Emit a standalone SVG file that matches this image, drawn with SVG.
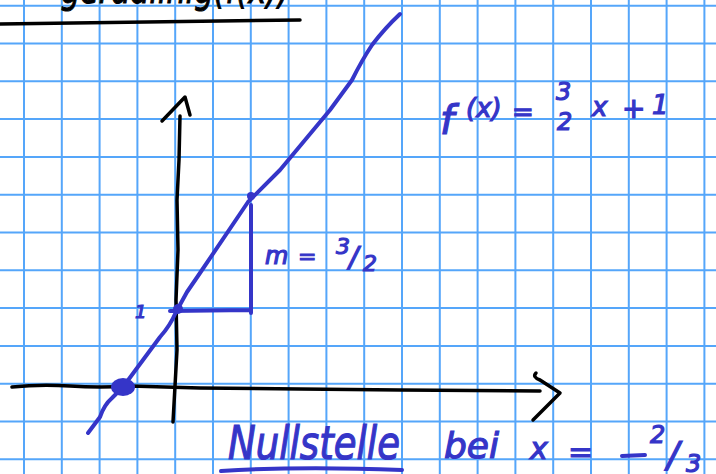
<svg xmlns="http://www.w3.org/2000/svg" width="716" height="474" viewBox="0 0 716 474">
<style>
.grid{stroke:#55a6fa;stroke-width:2;fill:none}
.ink{stroke:#000;stroke-width:3.5;fill:none;stroke-linecap:round;stroke-linejoin:round}
.blue{stroke:#3535c8;stroke-width:4;fill:none;stroke-linecap:round;stroke-linejoin:round}
.t{fill:#3535c8;stroke:#3535c8;stroke-width:1.2;font-family:"DejaVu Sans",sans-serif;font-style:italic}
.tk{fill:#000;stroke:#000;stroke-width:1;font-family:"DejaVu Sans",sans-serif;font-style:italic}
</style>
<rect width="716" height="474" fill="#fff"/>
<g id="grid">
<path class="grid" d="M24 0V474M61.8 0V474M99.6 0V474M137.4 0V474M175.2 0V474M213 0V474M250.8 0V474M288.6 0V474M326.4 0V474M364.2 0V474M402 0V474M439.8 0V474M477.6 0V474M515.4 0V474M553.2 0V474M591 0V474M628.8 0V474M666.6 0V474M704.4 0V474"/>
<path class="grid" d="M0 5.7H716M0 43.5H716M0 81.3H716M0 119.1H716M0 156.9H716M0 194.7H716M0 232.5H716M0 270.3H716M0 308.1H716M0 345.9H716M0 383.7H716M0 421.5H716M0 459.3H716"/>
</g>
<g id="header">
<text class="tk" x="40" y="3" font-size="40" textLength="250" lengthAdjust="spacingAndGlyphs">- geradlinig(f(x))</text>
<path class="ink" d="M0 24 L300 20"/>
</g>
<g id="connectors">
<path id="y-axis" class="ink" d="M173 422 L177 350 L176 300 L178 250 L177 200 L179 160 L180 116"/>
<path id="y-arrow" class="ink" d="M162 121 L185 97 L190 115"/>
<path id="x-axis" class="ink" d="M12 387 Q40 384 70 386 Q100 388 130 386 L200 388 L300 389 L400 390 L540 391"/>
<path id="x-arrow" class="ink" d="M536 373 Q532 377 540 380 L560 393 L533 420"/>
<path id="graph" class="blue" d="M88 433 L100 417 Q104 405 112 398 L123 387 L160 337 Q170 326 176 312 L187 292 L200 273 L248 202 L280 170 L330 110 L352 80 Q362 60 372 45 Q385 28 400 14"/>
<path id="triangle" class="blue" d="M170 311 L250 310 M251 313 L251 205"/>
<ellipse cx="123" cy="387" rx="12" ry="9" fill="#3535c8"/>
<circle cx="251" cy="196" r="4" fill="#3535c8"/>
<circle cx="178" cy="309" r="5" fill="#3535c8"/>
</g>
<g id="labels">
<text class="t" x="135" y="318" font-size="18">1</text>
<text class="t" x="265" y="264" font-size="24">m</text>
<text class="t" x="298" y="264" font-size="22">=</text>
<text class="t" x="336" y="254" font-size="22">3</text>
<text class="t" x="349" y="267" font-size="28">/</text>
<text class="t" x="363" y="271" font-size="22">2</text>
<text class="t" x="440" y="134" font-size="40">f</text>
<text class="t" x="466" y="117" font-size="26">(x)</text>
<text class="t" x="512" y="121" font-size="26">=</text>
<text class="t" x="556" y="100" font-size="24">3</text>
<text class="t" x="557" y="130" font-size="24">2</text>
<text class="t" x="592" y="116" font-size="26">x</text>
<text class="t" x="622" y="118" font-size="28">+</text>
<text class="t" x="652" y="114" font-size="26">1</text>
<text class="t" x="228" y="459" font-size="46" textLength="172" lengthAdjust="spacingAndGlyphs">Nullstelle</text>
<path class="blue" d="M221 471 Q300 466 402 470"/>
<text class="t" x="444" y="458" font-size="36">bei</text>
<text class="t" x="530" y="459" font-size="30">x</text>
<text class="t" x="568" y="462" font-size="30">=</text>
<path class="blue" d="M622 456 L645 455" stroke-width="7"/>
<text class="t" x="650" y="443" font-size="24">2</text>
<text class="t" x="667" y="467" font-size="36">/</text>
<text class="t" x="686" y="472" font-size="24">3</text>
</g>
</svg>
